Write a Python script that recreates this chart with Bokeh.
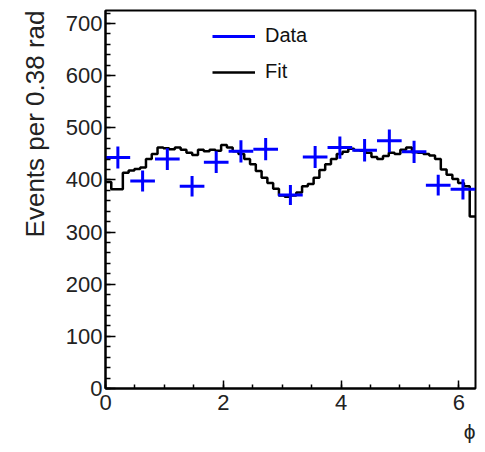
import numpy as np
from bokeh.plotting import figure
from bokeh.models import Title, Legend, LegendItem, FixedTicker, Range1d
from bokeh.embed import file_html
from bokeh.resources import INLINE

# ---- data ----
data_phi = [0.21, 0.63, 1.05, 1.47, 1.88, 2.30, 2.72, 3.14, 3.56, 3.98, 4.40, 4.82, 5.24, 5.65, 6.07]
data_counts = [443, 398, 440, 388, 434, 455, 459, 371, 444, 462, 457, 475, 454, 390, 382]
data_halfwidth = 0.2094

fit_values = [396, 382, 382, 414, 418, 421, 424, 440, 450, 462, 461, 459, 462, 458, 452, 448,
              458, 455, 458, 456, 467, 462, 455, 450, 440, 430, 417, 404, 394, 383, 370, 368,
              370, 376, 388, 392, 404, 419, 430, 440, 450, 454, 460, 457, 456, 452, 444, 440,
              446, 452, 450, 458, 462, 453, 452, 450, 447, 440, 420, 410, 402, 394, 388, 330]
phi_min, phi_max = 0.0, 2 * np.pi

x_ticks = [0, 2, 4, 6]
y_ticks = [0, 100, 200, 300, 400, 500, 600, 700]

# ---- derived ----
phi = np.array(data_phi)
cnt = np.array(data_counts, dtype=float)
err = np.sqrt(cnt)
edges = np.linspace(phi_min, phi_max, len(fit_values) + 1)
fit_y = list(fit_values) + [fit_values[-1]]

FONT = "Liberation Sans"

p = figure(width=478, height=452, output_backend="svg", toolbar_location=None,
           x_range=Range1d(phi_min, phi_max), y_range=Range1d(0, 725),
           min_border_left=105, min_border_right=3, min_border_top=10, min_border_bottom=64)
p.grid.visible = False
p.outline_line_color = "black"
p.outline_line_width = 2
p.background_fill_color = "white"
p.border_fill_color = "white"

fit_r = p.step(x=edges, y=fit_y, mode="after", line_color="black", line_width=2.5)
h_r = p.segment(x0=phi - data_halfwidth, y0=cnt, x1=phi + data_halfwidth, y1=cnt,
                line_color="#0000ff", line_width=3)
p.segment(x0=phi, y0=cnt - err, x1=phi, y1=cnt + err, line_color="#0000ff", line_width=3)

legend = Legend(items=[LegendItem(label="Data", renderers=[h_r]),
                       LegendItem(label="Fit", renderers=[fit_r])],
                location=(107, 305), orientation="vertical",
                glyph_width=43, glyph_height=20, label_height=20, label_standoff=10,
                spacing=13, padding=0, margin=0,
                label_text_font=FONT, label_text_font_size="20px", label_text_color="#111111",
                border_line_color=None, background_fill_alpha=0)
p.add_layout(legend)

for ax in (p.xaxis[0], p.yaxis[0]):
    ax.axis_line_width = 2
    ax.axis_line_color = "black"
    ax.major_tick_line_color = "black"
    ax.minor_tick_line_color = "black"
    ax.major_tick_line_width = 1.5
    ax.minor_tick_line_width = 1.5
    ax.major_tick_out = 0
    ax.minor_tick_out = 0
    ax.major_label_text_font = FONT
    ax.major_label_text_font_size = "22px"
    ax.major_label_text_color = "#222222"

p.xaxis.ticker = FixedTicker(ticks=x_ticks, minor_ticks=list(np.arange(0, 6.01, 0.5)))
p.yaxis.ticker = FixedTicker(ticks=y_ticks, minor_ticks=list(range(0, 721, 20)))
p.xaxis.major_tick_in = 8
p.xaxis.minor_tick_in = 4
p.yaxis.major_tick_in = 10
p.yaxis.minor_tick_in = 5
p.xaxis.major_label_standoff = 6
p.yaxis.major_label_standoff = 3

p.add_layout(Title(text="Events per 0.38 rad", align="right", text_font=FONT,
                   text_font_size="26px", text_font_style="normal", text_color="#222222",
                   standoff=25), "left")
p.add_layout(Title(text="ϕ", align="right", text_font=FONT, text_font_size="21px",
                   text_font_style="normal", text_color="#222222", standoff=10), "below")

open("out.html", "w").write(file_html(p, INLINE))
